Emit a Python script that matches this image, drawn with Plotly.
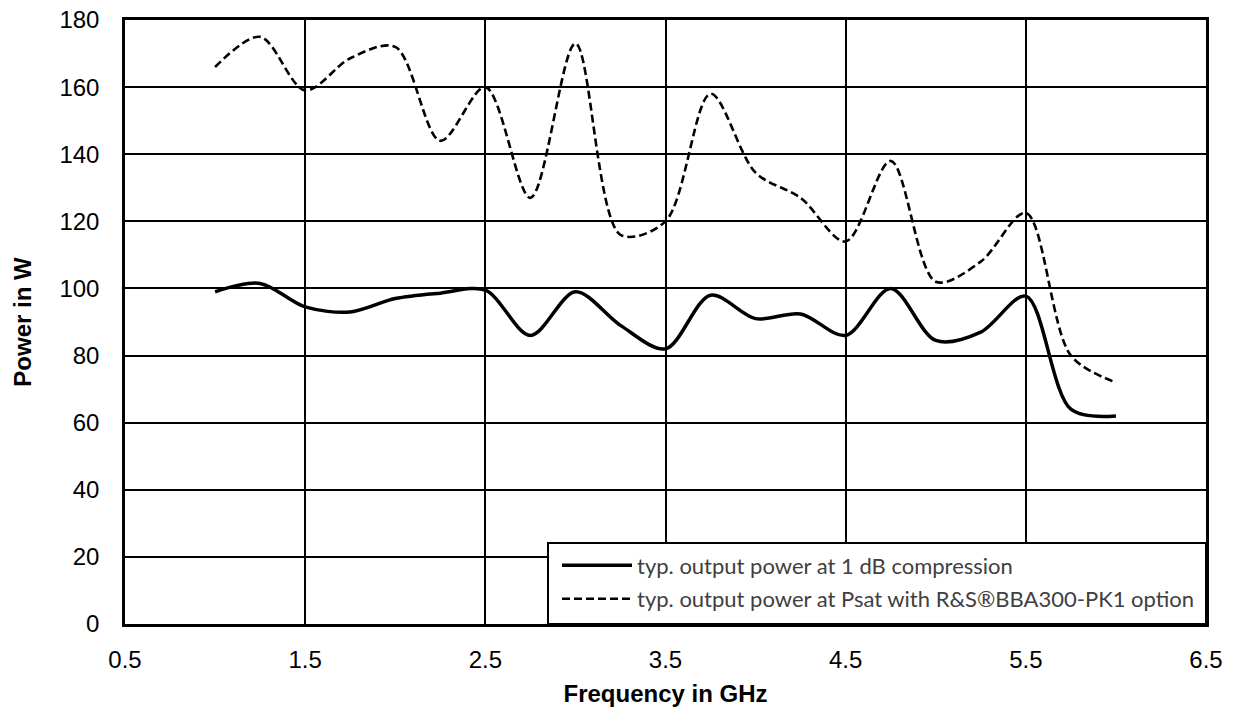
import plotly.graph_objects as go

freq = [1.0, 1.25, 1.5, 1.75, 2.0, 2.25, 2.5, 2.75, 3.0, 3.25, 3.5, 3.75, 4.0, 4.25, 4.5, 4.75, 5.0, 5.25, 5.5, 5.75, 6.0]
p1db = [99, 101.5, 94.5, 93, 97, 98.6, 99.5, 86, 99, 89, 82, 98, 91, 92.4, 86, 100, 84.5, 87, 97.7, 64, 62]
psat = [166, 175, 159, 168.6, 172, 144, 160, 127, 173, 116, 120, 158, 134.5, 127, 114, 138, 102, 108, 122.5, 80, 72]

x_ticks = [0.5, 1.5, 2.5, 3.5, 4.5, 5.5, 6.5]
y_ticks = [0, 20, 40, 60, 80, 100, 120, 140, 160, 180]

name1 = "typ. output power at 1 dB compression"
name2 = "typ. output power at Psat with R&S®BBA300-PK1 option"

fig = go.Figure()
fig.add_trace(go.Scatter(x=freq, y=p1db, mode="lines", name=name1, legendgroup="a",
                         line=dict(color="black", width=3.5, shape="spline", smoothing=0.9)))
fig.add_trace(go.Scatter(x=freq, y=psat, mode="lines", name=name2, legendgroup="b",
                         line=dict(color="black", width=2.6, dash="8px,4px", shape="spline", smoothing=0.9)))

tick_font = dict(family="Arial, Liberation Sans", size=24, color="black")
title_font = dict(family="Arial, Liberation Sans", size=24, color="black")

# legend box (white, framed) in the lower right of the plot area
fig.add_shape(type="rect", xref="paper", yref="paper",
              x0=(548 - 125) / 1081, x1=1.0, y0=0.0, y1=81 / 604,
              fillcolor="white", line=dict(color="black", width=2), layer="above")

fig.update_layout(
    width=1233, height=709,
    margin=dict(l=125, r=27, t=20, b=85),
    plot_bgcolor="white", paper_bgcolor="white",
    font=dict(family="Arial, Liberation Sans", color="black"),
    xaxis=dict(range=[0.5, 6.5], tickvals=x_ticks,
               ticktext=[str(v) for v in x_ticks], automargin=False,
               showgrid=True, gridcolor="black", gridwidth=1.5,
               showline=True, linecolor="black", linewidth=2.5, mirror=True,
               zeroline=False, ticks="", tickfont=tick_font, ticklabelstandoff=12,
               title=dict(text="<b>Frequency in GHz</b>", font=title_font, standoff=14)),
    yaxis=dict(range=[0, 180], tickvals=y_ticks, automargin=False,
               showgrid=True, gridcolor="black", gridwidth=1.5,
               showline=True, linecolor="black", linewidth=2.5, mirror=True,
               zeroline=False, ticks="", tickfont=tick_font, ticklabelstandoff=18,
               title=dict(text="<b>Power in W</b>", font=title_font, standoff=22)),
    legend=dict(x=(557 - 125) / 1081, y=0.006, xanchor="left", yanchor="bottom",
                bgcolor="rgba(0,0,0,0)", borderwidth=0,
                itemwidth=70, tracegroupgap=2,
                font=dict(family="Lato, Open Sans", size=22, color="#404040")),
    showlegend=True,
)

fig.write_html("out.html", config={"displayModeBar": False},
               post_script="document.body.style.margin='0px';")
